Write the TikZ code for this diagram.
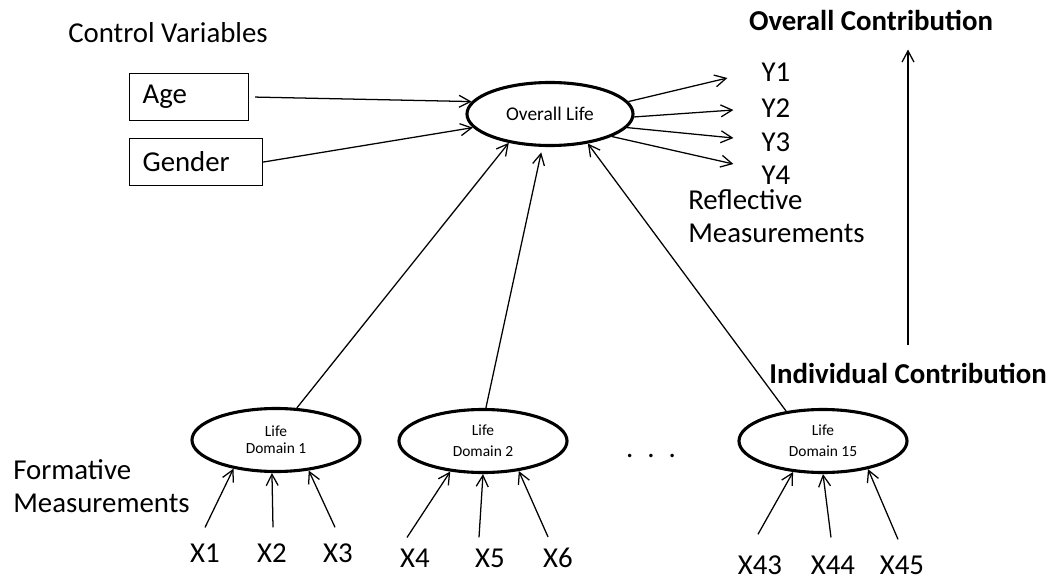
\documentclass[tikz,border=0pt]{standalone}
\usepackage{fontspec}
\setmainfont{Carlito}
\usepackage{tikz}
\usetikzlibrary{arrows.meta,shapes.geometric,calc}

\begin{document}
\begin{tikzpicture}[
  x=0.025cm, y=-0.025cm,
  lbl/.style={inner sep=0pt,font=\fontsize{20.5}{23.5}\selectfont},
  hdr/.style={inner sep=0pt,font=\fontsize{20.5}{23.5}\selectfont\bfseries},
  box/.style={draw,line width=0.8pt,inner sep=0pt,inner xsep=0.325cm,
    minimum height=1.175cm,align=left,anchor=north west,
    font=\fontsize{20.5}{22}\selectfont},
  latent/.style={ellipse,draw,line width=2.2pt,inner sep=0pt,
    minimum width=4.2cm,minimum height=1.575cm,align=center,
    font=\fontsize{11}{15}\selectfont},
  arrow/.style={-{Straight Barb[length=8pt,width=8.5pt]},line width=0.9pt}
]
\useasboundingbox (0,0) rectangle (1051,578);
% control variables
\node[lbl] (ctrl) at (168,33) {Control Variables};
\node[box,text width=2.325cm] (age) at (129,73) {Age};
\node[box,text width=2.675cm] (gender) at (129,138) {Gender};
% overall construct and reflective items
\node[latent,minimum width=4.15cm,font=\fontsize{13.8}{15}\selectfont] (ov) at (550,114) {Overall Life};
\node[lbl] (y1) at (776,72.5) {Y1};
\node[lbl] (y2) at (776,108) {Y2};
\node[lbl] (y3) at (776,142) {Y3};
\node[lbl] (y4) at (776,175) {Y4};
\node[lbl,anchor=west,align=left] (refl) at (688,216.5) {Reflective\\Measurements};
\node[hdr] (ovc) at (871,20) {Overall Contribution};
\node[hdr] (ind) at (908,373) {Individual Contribution};
% life domains
\node[latent,font=\fontsize{11}{12}\selectfont] (d1) at (276,440) {Life\\Domain 1};
\node[latent] (d2) at (483,441) {Life\\Domain 2};
\node[latent] (d15) at (823,441) {Life\\Domain 15};
\node[lbl] (dots) at (651,456) {.\hspace{10pt}.\hspace{10pt}.};
\node[lbl,anchor=west,align=left] (form) at (13,486.5) {Formative\\Measurements};
% formative items
\node[lbl] (x1) at (205,553) {X1};
\node[lbl] (x2) at (272,553) {X2};
\node[lbl] (x3) at (338,553) {X3};
\node[lbl] (x4) at (415,558) {X4};
\node[lbl] (x5) at (490,558) {X5};
\node[lbl] (x6) at (558,558) {X6};
\node[lbl] (x43) at (760,565) {X43};
\node[lbl] (x44) at (833,565) {X44};
\node[lbl] (x45) at (902,565) {X45};

\draw[arrow] ($(age.east)+(6,0)$) -- (ov.171);
\draw[arrow] (gender.east) -- (ov.190);
\draw[arrow] (d1.57) -- (ov.215);
\draw[arrow,shorten >=4pt] (d2.85) -- (ov.257);
\draw[arrow] (d15.141) -- (ov.322);
\draw[arrow] (ov.9) -- ($(y1.west)+(-34,5.5)$);
\draw[arrow] (ov.358) -- ($(y2.west)+(-28,2)$);
\draw[arrow] (ov.350) -- ($(y3.west)+(-28,-4)$);
\draw[arrow] (ov.340) -- ($(y4.west)+(-28,-11)$);
\draw[arrow] ($(ind.north)+(0,-17)$) -- ($(ind.north |- ovc.south)+(0,19)$);

\draw[arrow] ($(x1.north)+(0,-16)$) -- (d1.214);
\draw[arrow] ($(x2.north)+(1,-16)$) -- (d1.263);
\draw[arrow] ($(x3.north)+(-3,-16)$) -- (d1.317);
\draw[arrow] ($(x4.north)+(-8,-11)$) -- (d2.223);
\draw[arrow] ($(x5.north)+(-11,-11)$) -- (d2.270);
\draw[arrow] ($(x6.north)+(-10,-11)$) -- (d2.320);
\draw[arrow] ($(x43.north)+(-2,-21)$) -- (d15.226);
\draw[arrow] ($(x44.north)+(-2,-18)$) -- (d15.270);
\draw[arrow] ($(x45.north)+(-4,-16)$) -- (d15.328);
\end{tikzpicture}
\end{document}
